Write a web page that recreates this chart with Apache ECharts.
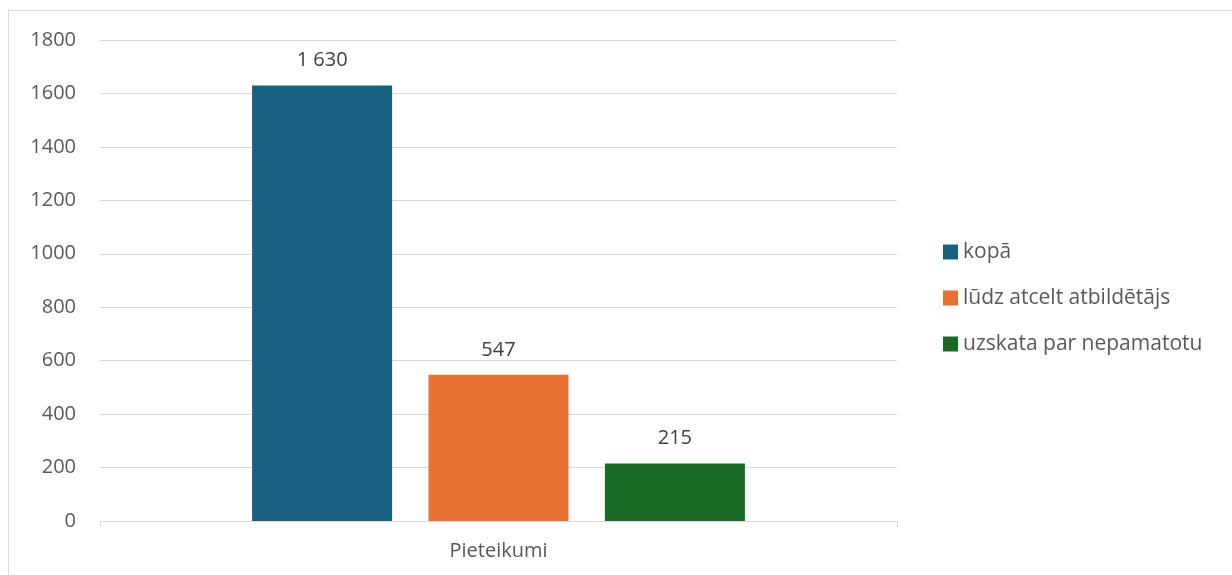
<!DOCTYPE html>
<html>
<head>
<meta charset="utf-8">
<script src="https://cdn.jsdelivr.net/npm/echarts@6/dist/echarts.min.js"></script>
<style>
  html, body { margin: 0; padding: 0; background: #fff; }
  #chart { width: 1232px; height: 575px; }
</style>
</head>
<body>
<div id="chart"></div>
<script>
var categories = ['Pieteikumi'];
var seriesNames = ['kopā', 'lūdz atcelt atbildētājs', 'uzskata par nepamatotu'];
var kopa = [1630];
var atcelt = [547];
var nepamatotu = [215];
var colors = ['#17607F', '#E97132', '#196B24'];

function fmt(v) {
  return String(v).replace(/\B(?=(\d{3})+(?!\d))/g, ' ');
}

var myChart = echarts.init(document.getElementById('chart'));
var font = 'Open Sans';

var makeSeries = function (name, data, color) {
  return {
    name: name,
    type: 'bar',
    data: data,
    barWidth: 140,
    barGap: '26%',
    itemStyle: { color: color },
    label: {
      show: true,
      position: 'top',
      distance: 15,
      color: '#404040',
      fontFamily: font,
      fontSize: 20,
      formatter: function (p) { return fmt(p.value); }
    }
  };
};

option = {
  animation: false,
  textStyle: { fontFamily: font },
  graphic: [{
    type: 'rect',
    shape: { x: 8.5, y: 10.5, width: 1300, height: 700 },
    style: { fill: 'none', stroke: '#d9d9d9', lineWidth: 1 },
    silent: true
  }],
  grid: { left: 100, right: 335, top: 40, bottom: 54 },
  legend: {
    orient: 'vertical',
    left: 938,
    top: 236,
    itemWidth: 15,
    itemHeight: 15,
    itemGap: 24,
    icon: 'rect',
    textStyle: { color: '#595959', fontSize: 21, lineHeight: 22, fontFamily: font },
    data: seriesNames
  },
  xAxis: {
    type: 'category',
    data: categories,
    axisLine: { lineStyle: { color: '#d9d9d9', width: 1 } },
    axisTick: { show: true, length: 6, lineStyle: { color: '#d9d9d9' } },
    axisLabel: { color: '#595959', fontSize: 20, margin: 20, fontFamily: font }
  },
  yAxis: {
    type: 'value',
    min: 0,
    max: 1800,
    interval: 200,
    axisLine: { show: false },
    axisTick: { show: false },
    splitLine: { lineStyle: { color: '#d9d9d9', width: 1 } },
    axisLabel: { color: '#595959', fontSize: 20, margin: 24, fontFamily: font, formatter: function (v) { return String(v); } }
  },
  series: [
    makeSeries(seriesNames[0], kopa, colors[0]),
    makeSeries(seriesNames[1], atcelt, colors[1]),
    makeSeries(seriesNames[2], nepamatotu, colors[2])
  ]
};

myChart.setOption(option);
</script>
</body>
</html>
